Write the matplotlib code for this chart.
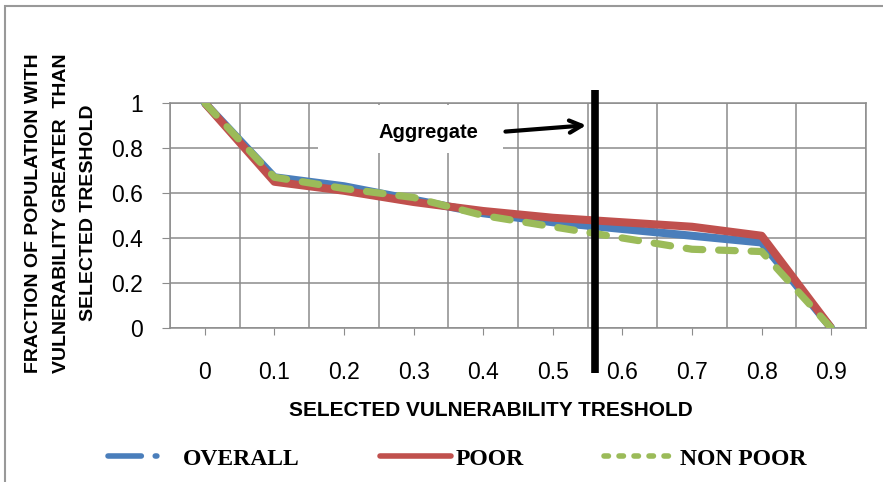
import numpy as np
import matplotlib
matplotlib.use("Agg")
import matplotlib.pyplot as plt
from matplotlib.lines import Line2D
from matplotlib.patches import Rectangle

# data
thresholds = ["0", "0.1", "0.2", "0.3", "0.4", "0.5", "0.6", "0.7", "0.8", "0.9"]
overall = [1.0, 0.67, 0.63, 0.57, 0.51, 0.47, 0.44, 0.41, 0.38, 0.0]
poor = [1.0, 0.65, 0.61, 0.56, 0.52, 0.49, 0.47, 0.45, 0.41, 0.0]
non_poor = [1.0, 0.67, 0.62, 0.58, 0.50, 0.45, 0.40, 0.35, 0.34, 0.0]
y_ticks = [0, 0.2, 0.4, 0.6, 0.8, 1.0]

aggregate_pos = 5.6  # category position of the aggregate marker line

c_blue = "#4a7ebb"
c_red = "#c0504d"
c_green = "#9bbb59"
c_grid = "#8c8c8c"

W, H = 883, 482
fig = plt.figure(figsize=(W / 100, H / 100), dpi=100)
ax = fig.add_axes([170 / W, (H - 328) / H, 696 / W, 225 / H])

x = np.arange(len(thresholds))
ax.plot(x, overall, color=c_blue, lw=5.8, solid_joinstyle="round", solid_capstyle="round", zorder=3)
ax.plot(x, poor, color=c_red, lw=5.8, solid_joinstyle="round", solid_capstyle="butt", zorder=4)
ax.plot(x, non_poor, color=c_green, lw=5.2, dashes=(2.3, 2.2), dash_capstyle="round", zorder=5)

ax.set_xlim(-0.5, len(thresholds) - 0.5)
ax.set_ylim(0, 1)

ax.set_xticks(x)
ax.set_xticklabels(thresholds)
ax.set_xticks(np.arange(-0.5, len(thresholds), 1), minor=True)
ax.set_yticks(y_ticks)
ax.set_yticklabels([f"{v:g}" for v in y_ticks])

for lab in ax.get_xticklabels() + ax.get_yticklabels():
    lab.set_fontfamily("Liberation Sans")
    lab.set_fontsize(16.5)

ax.tick_params(axis="x", which="major", length=5, color=c_grid, pad=19)
ax.tick_params(axis="x", which="minor", length=0)
ax.tick_params(axis="y", which="major", length=6, color=c_grid, pad=13.5)
ax.grid(which="minor", axis="x", color=c_grid, lw=1.1)
ax.grid(which="major", axis="y", color=c_grid, lw=1.1)
ax.set_axisbelow(True)
for sp in ax.spines.values():
    sp.set_color(c_grid)
    sp.set_linewidth(1.1)

# white box behind the annotation text
ax.add_patch(Rectangle((1.62, 0.78), 2.66, 0.21, facecolor="white", edgecolor="none", zorder=1))
ax.text(3.22, 0.867, "Aggregate", family="Liberation Sans", weight="bold", fontsize=14.5,
        ha="center", va="center", zorder=6)
ax.annotate("", xy=(5.52, 0.902), xytext=(4.28, 0.872),
            arrowprops=dict(arrowstyle="->", lw=3, color="black", mutation_scale=22), zorder=6)

# the aggregate marker line runs past the plot area
ax.plot([aggregate_pos, aggregate_pos], [-0.2, 1.058], color="black", lw=5.5,
        clip_on=False, zorder=7, solid_capstyle="butt")

fig.text(61 / W, 1 - 213 / H,
         "FRACTION OF POPULATION WITH\nVULNERABILITY GREATER  THAN\nSELECTED TRESHOLD",
         rotation=90, ha="center", va="center", multialignment="center",
         family="Liberation Sans", weight="bold", fontsize=14, linespacing=1.8)
fig.text(491 / W, 1 - 411 / H, "SELECTED VULNERABILITY TRESHOLD",
         ha="center", va="center", family="Liberation Sans", weight="bold", fontsize=15)

handles = [
    Line2D([], [], color=c_blue, lw=4, dashes=(6, 2.5, 0.3, 10), dash_capstyle="round"),
    Line2D([], [], color=c_red, lw=4, solid_capstyle="round"),
    Line2D([], [], color=c_green, lw=4, dashes=(0.8, 1.9), dash_capstyle="round"),
]
fig.legend(handles, ["OVERALL", "POOR", "NON POOR"], loc="center",
           bbox_to_anchor=(457 / W, 1 - 459 / H), ncol=3, frameon=False,
           prop=dict(family="Liberation Serif", weight="bold", size=17),
           handlelength=3.0, handletextpad=0.2, columnspacing=3.4)

# outer chart border
fig.patches.append(Rectangle((5 / W, -0.5), 2, 1.5 - 6 / H, transform=fig.transFigure,
                             fill=False, edgecolor="#999999", lw=1.5))

fig.savefig("out.png", dpi=100)
